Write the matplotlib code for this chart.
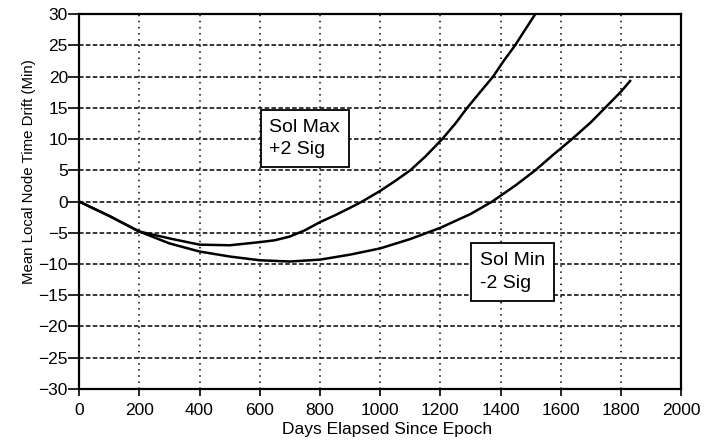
import matplotlib
matplotlib.use("Agg")
import matplotlib.pyplot as plt

plt.rcParams['font.family'] = ['Liberation Sans', 'DejaVu Sans']

# Sol Max +2 Sig
max_days = [0, 100, 200, 300, 400, 500, 600, 650, 700, 750, 800, 850, 900,
            940, 1000, 1050, 1100, 1150, 1206, 1250, 1289, 1330, 1375, 1410,
            1448, 1480, 1515]
max_drift = [0, -2.3, -4.8, -5.9, -6.9, -7.0, -6.5, -6.2, -5.6, -4.6, -3.3, -2.2, -1.0,
             0, 1.7, 3.3, 5.0, 7.2, 10.0, 12.5, 15.0, 17.4, 20.0, 22.5,
             25.0, 27.4, 30.0]

# Sol Min -2 Sig
min_days = [0, 100, 200, 300, 400, 500, 600, 700, 800, 900, 1000, 1100,
            1200, 1300, 1372, 1450, 1515, 1575, 1637, 1700, 1747, 1800, 1830]
min_drift = [0, -2.3, -4.8, -6.7, -8.0, -8.8, -9.4, -9.6, -9.3, -8.5, -7.5, -6.0,
             -4.2, -2.0, 0, 2.6, 5.0, 7.5, 10.0, 12.7, 15.0, 17.6, 19.3]

x_ticks = list(range(0, 2001, 200))
y_ticks = list(range(-30, 31, 5))

fig = plt.figure(figsize=(7.06, 4.41), dpi=100)
ax = fig.add_axes([0.112, 0.118, 0.853, 0.850])

ax.plot(max_days, max_drift, color='black', lw=1.8, zorder=3)
ax.plot(min_days, min_drift, color='black', lw=1.8, zorder=3)

ax.set_xlim(0, 2000)
ax.set_ylim(-30, 30)
ax.set_xticks(x_ticks)
ax.set_yticks(y_ticks)

for y in y_ticks[1:-1]:
    ax.axhline(y, color='black', lw=1.1, ls=(0, (3, 1.5)), zorder=1)
for x in x_ticks[1:-1]:
    ax.axvline(x, color='black', lw=1.1, ls=(0, (1, 3)), zorder=1)

for s in ax.spines.values():
    s.set_linewidth(1.6)

ax.tick_params(axis='y', direction='out', length=8, width=1.2, labelsize=12.5, pad=0)
ax.tick_params(axis='x', direction='out', length=5, width=1.2, labelsize=12.5, pad=5)

ax.set_xlabel('Days Elapsed Since Epoch', fontsize=12.5)
ax.set_ylabel('Mean Local Node Time Drift (Min)', fontsize=10.8)
ax.xaxis.set_label_coords(0.512, -0.088)
ax.yaxis.set_label_coords(-0.072, 0.581)

box = dict(boxstyle='square,pad=0.45', facecolor='white', edgecolor='black', lw=1.3)
ax.text(749, 10.1, 'Sol Max\n+2 Sig', fontsize=14, va='center', ha='center',
        multialignment='left', linespacing=1.45, bbox=box, zorder=4)
ax.text(1439, -11.3, 'Sol Min\n-2 Sig', fontsize=14, va='center', ha='center',
        multialignment='left', linespacing=1.45, bbox=box, zorder=4)

fig.savefig('out.png', dpi=100)
